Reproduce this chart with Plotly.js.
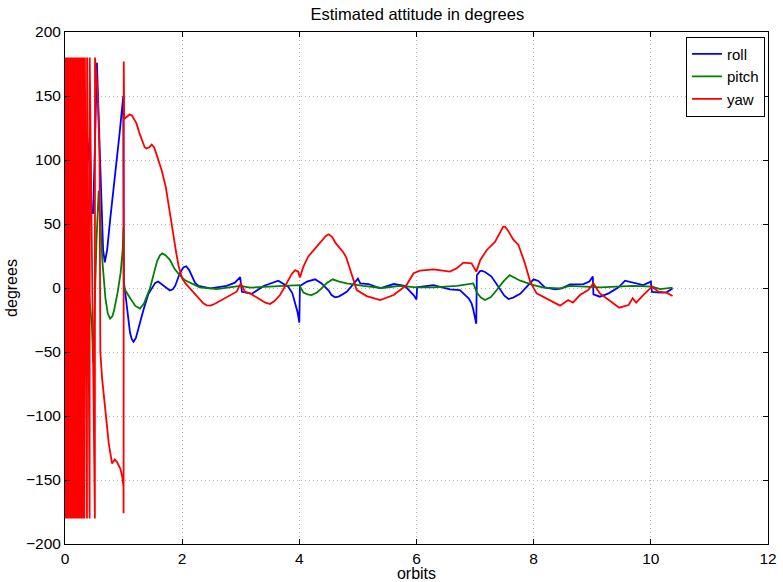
<!DOCTYPE html>
<html>
<head>
<meta charset="utf-8">
<script src="https://cdn.plot.ly/plotly-3.0.1.min.js"></script>
<style>
html,body{margin:0;padding:0;background:#fff;}
#chart{width:783px;height:582px;}
</style>
</head>
<body>
<div id="chart"></div>
<script>
// ---- Data ----
var seriesNames = ["roll", "pitch", "yaw"];

var rollX = [0,0.1,0.2,0.3,0.35,0.37,0.39,0.42,0.45,0.48,0.51,0.545,0.57,0.62,0.65,0.68,0.72,0.77,0.85,0.93,0.995,1.003,1.024,1.06,1.11,1.14,1.17,1.21,1.25,1.3,1.34,1.42,1.48,1.54,1.59,1.65,1.71,1.79,1.84,1.88,1.96,2.02,2.07,2.12,2.16,2.22,2.28,2.48,2.76,2.9,2.99,3.02,3.19,3.39,3.64,3.81,3.88,3.93,3.97,4.0,4.01,4.13,4.27,4.38,4.45,4.5,4.55,4.61,4.68,4.81,5.0,5.04,5.18,5.38,5.61,5.8,5.95,6.0,6.01,6.29,6.57,6.74,6.89,6.94,6.97,7.0,7.02,7.03,7.08,7.11,7.17,7.28,7.35,7.43,7.5,7.57,7.65,7.77,7.94,8.0,8.08,8.19,8.37,8.48,8.62,8.85,8.95,9.01,9.02,9.13,9.28,9.45,9.56,9.7,9.87,10.0,10.02,10.16,10.27,10.37];
var rollY = [0,45,90,115,122,88,100,118,62,58,110,176,140,60,30,20,30,53,85,120,150,5,-2,-18,-35,-40,-42,-39,-32,-24,-17,-5,0,4,5,3,0.5,-2,-1,1.6,11.5,16,17,14,10,4,1.6,-0.3,1.6,4.2,8.5,-3,-4.5,1.6,5.7,1,-4,-12,-19,-27,1.6,5,6.8,3.6,0.5,-2,-5.5,-7.3,-6.5,-2.9,7.3,3.6,3.1,-0.3,3.1,1.6,-5.5,-9,0.5,2.3,-1,-1.6,-8,-12,-17,-23,-28,10,13,13.5,12.5,8.9,4,-1.6,-6,-8.6,-7.5,-4.5,3.6,6.8,5.5,0.5,-1,-0.3,2.9,3.1,5,8.9,-5,-6.8,-4.2,0.5,5.7,4.2,2.3,5,-3.1,-3.6,-3.4,-0.3];

var pitchX = [0,0.08,0.16,0.24,0.32,0.38,0.42,0.46,0.48,0.5,0.54,0.575,0.6,0.64,0.69,0.73,0.77,0.81,0.84,0.9,0.95,0.985,0.998,1.006,1.1,1.2,1.28,1.35,1.45,1.52,1.57,1.62,1.66,1.72,1.79,1.87,1.96,2.05,2.13,2.3,2.59,2.99,3.16,3.44,3.73,4.0,4.07,4.14,4.21,4.3,4.38,4.47,4.57,4.68,4.81,5.09,5.41,5.72,6.0,6.29,6.69,6.97,7.03,7.1,7.17,7.27,7.37,7.48,7.59,7.68,7.77,8.0,8.17,8.45,8.62,9.13,9.7,10.02,10.16,10.37];
var pitchY = [0,-15,12,-18,10,20,-10,-30,-58,-20,40,76,55,20,-8,-20,-24,-22,-17,-3,12,30,47,0,-7,-14,-16,-12,-0.3,12,20.6,25.5,27,25.5,22,15,10,6,4.2,0.5,-0.8,1.6,0.3,1,1.6,2.3,-3.6,-5,-5.5,-3.5,-0.3,4,6.8,5,3.6,1.6,0,1.6,0.5,0.5,1.6,3.6,-3.6,-7.5,-9.4,-7,-1.6,5,10,8,5.7,2.3,0.3,-0.3,1.6,0.5,1.6,1,-0.8,0.3];

var yawX = [0,0.01,0.02,0.03,0.04,0.05,0.06,0.07,0.08,0.09,0.1,0.11,0.12,0.13,0.14,0.15,0.16,0.17,0.18,0.19,0.2,0.21,0.22,0.23,0.24,0.25,0.26,0.27,0.28,0.29,0.3,0.31,0.32,0.33,0.34,
  0.375,0.377,0.42,0.422,0.51,0.512,0.56,0.59,0.6,0.603,0.632,0.688,0.746,0.802,0.85,0.888,0.944,0.975,0.998,1.0,1.003,1.01,1.06,1.1,1.14,1.18,1.22,1.27,1.31,1.36,1.39,1.44,1.48,1.52,1.565,1.65,1.72,1.75,1.8,1.85,1.9,1.94,2.0,2.05,2.11,2.18,2.25,2.36,2.42,2.48,2.55,2.62,2.82,2.93,3.0,3.07,3.16,3.25,3.33,3.42,3.5,3.58,3.67,3.74,3.81,3.87,3.93,3.98,4.01,4.07,4.15,4.35,4.45,4.5,4.56,4.62,4.67,4.75,4.8,4.87,4.93,4.98,5.15,5.38,5.61,5.83,5.95,6.06,6.29,6.57,6.69,6.8,6.94,7.02,7.09,7.2,7.34,7.42,7.48,7.51,7.56,7.65,7.74,7.85,7.94,8.05,8.22,8.34,8.45,8.59,8.67,8.79,8.93,9.02,9.13,9.3,9.46,9.62,9.69,9.75,9.87,10.02,10.13,10.27,10.37];
var yawY = [180,-180,180,-180,180,-180,180,-180,180,-180,180,-180,180,-180,180,-180,180,-180,180,-180,180,-180,180,-180,180,-180,180,-180,180,-180,180,-180,180,-180,180,
  -180,180,-180,180,-180,180,150,100,20,-50,-70,-95,-121,-137,-134,-136,-141,-147,-155,-176,177,132,134,135.5,135,132,128.6,121,115.6,110,109,110,112,110,104,92,79,70,55,42,27,17,7.6,4,1,-3,-6.8,-12,-13.5,-13.8,-12.5,-10.7,-5.5,-2.9,3.6,-2.9,-4.2,-7,-9,-11.5,-12.5,-10,-5.5,0,6.3,11,14,12.8,8.3,16.7,24.5,35,40.5,42,40,35,32,28,24,14,5,-1.6,-6.3,-9.4,-5.5,2.3,11.5,13.5,14.6,12.8,15.4,19.8,19.3,12.8,21.9,29.7,36,43,48,48,45,38,33.6,19.3,5,-4.2,-8.1,-11.5,-13.8,-9.4,-11.5,-5.5,-1.6,3.6,-4.2,-9.9,-15.4,-13.3,-8.1,-11.5,-5.5,1,-2.9,-3.6,-6.3];

var xTicks = [0,2,4,6,8,10,12];
var yTicks = [-200,-150,-100,-50,0,50,100,150,200];

var FONT = "Liberation Sans, Arial, Helvetica, sans-serif";

var traces = [
  {x: rollX, y: rollY, name: seriesNames[0], mode: "lines", line: {color: "rgb(0,0,255)", width: 1.8}},
  {x: pitchX, y: pitchY, name: seriesNames[1], mode: "lines", line: {color: "rgb(0,128,0)", width: 1.8}},
  {x: yawX, y: yawY, name: seriesNames[2], mode: "lines", line: {color: "rgb(255,0,0)", width: 1.8}}
];

var axisCommon = {
  showline: true, linecolor: "#000", linewidth: 1, mirror: "ticks",
  ticks: "inside", ticklen: 5, tickcolor: "#000", tickwidth: 1,
  showgrid: true, gridcolor: "#b4b4b4", griddash: "1px,3px", gridwidth: 1,
  zeroline: false, tickfont: {family: FONT, size: 15.5, color: "#000"}
};

var layout = {
  width: 783, height: 582,
  margin: {l: 65, r: 15, t: 32, b: 38},
  paper_bgcolor: "#fff", plot_bgcolor: "#fff",
  font: {family: FONT, color: "#000"},
  title: {text: "Estimated attitude in degrees", font: {family: FONT, size: 16.5, color: "#000"}, x: 0.533, xanchor: "center", y: 0.975, yanchor: "middle"},
  xaxis: Object.assign({}, axisCommon, {
    range: [0, 12], tickvals: xTicks, ticktext: xTicks.map(String),
    title: {text: "orbits", font: {family: FONT, size: 16, color: "#000"}, standoff: 0}
  }),
  yaxis: Object.assign({}, axisCommon, {
    range: [-200, 200], tickvals: yTicks, ticktext: yTicks.map(function(v){return v < 0 ? "\u2212" + Math.abs(v) : String(v);}),
    title: {text: "degrees", font: {family: FONT, size: 16, color: "#000"}, standoff: 4}
  }),
  legend: {
    x: 0.9957, xanchor: "right", y: 0.991, yanchor: "top",
    bgcolor: "#fff", bordercolor: "#000", borderwidth: 1,
    font: {family: FONT, size: 15, color: "#000"},
    tracegroupgap: 0, itemwidth: 30
  },
  showlegend: true
};

Plotly.newPlot("chart", traces, layout, {staticPlot: true, displayModeBar: false});
</script>
</body>
</html>
